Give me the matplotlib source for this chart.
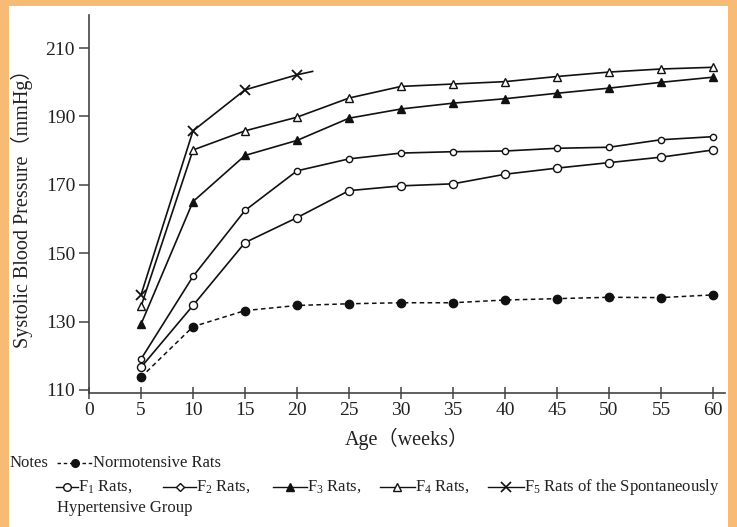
import matplotlib
matplotlib.use('Agg')
import matplotlib.pyplot as plt
from matplotlib.lines import Line2D
from matplotlib.patches import Rectangle

plt.rcParams['font.family'] = ['Liberation Serif', 'Noto Sans CJK SC']
plt.rcParams['mathtext.fontset'] = 'custom'
plt.rcParams['mathtext.rm'] = 'Liberation Serif'
plt.rcParams['mathtext.it'] = 'Liberation Serif:italic'

# data
weeks = [5, 10, 15, 20, 25, 30, 35, 40, 45, 50, 55, 60]
normo = [113.7, 128.5, 133.2, 134.7, 135.2, 135.5, 135.5, 136.3, 136.7, 137.1, 137.0, 137.8]
f1 = [116.6, 134.7, 153.1, 160.4, 168.3, 169.7, 170.3, 173.1, 174.9, 176.5, 178.1, 180.2]
f2 = [119.0, 143.2, 162.5, 174.1, 177.6, 179.3, 179.7, 179.9, 180.7, 181.0, 183.2, 184.1]
f3 = [129.2, 165.1, 178.6, 183.0, 189.5, 192.2, 193.9, 195.2, 196.8, 198.3, 200.0, 201.5]
f4 = [134.4, 180.2, 185.8, 189.8, 195.4, 198.8, 199.5, 200.2, 201.7, 203.0, 203.9, 204.4]
# F5 line runs a little past the last point
weeks5 = [5, 10, 15, 20, 21.5]
f5 = [137.8, 185.8, 197.8, 202.2, 203.2]

xticks = [0, 5, 10, 15, 20, 25, 30, 35, 40, 45, 50, 55, 60]
yticks = [110, 130, 150, 170, 190, 210]

W, H = 737, 527
fig = plt.figure(figsize=(W / 100, H / 100), dpi=100)
fig.patch.set_facecolor('#f7bb76')
fig.patches.append(Rectangle((9 / W, 0), 719 / W, 1 - 6 / H, transform=fig.transFigure,
                             facecolor='white', edgecolor='none', zorder=-5))

ax = fig.add_axes([89 / W, 1 - 393.3 / H, 636 / W, 378.3 / H])
ax.set_facecolor('none')

lc = '#111111'
ax.plot(weeks, normo, color=lc, lw=1.1, ls=(0, (3, 2.2)), marker='o', ms=6,
        mfc=lc, mec=lc, zorder=3)
ax.plot(weeks, f1, color=lc, lw=1.2, marker='o', ms=5.8, mfc='white', mec=lc, mew=1.0, zorder=3)
ax.plot(weeks, f2, color=lc, lw=1.2, marker='o', ms=4.5, mfc='white', mec=lc, mew=1.0, zorder=3)
ax.plot(weeks, f3, color=lc, lw=1.2, marker='^', ms=6, mfc=lc, mec=lc, zorder=3)
ax.plot(weeks, f4, color=lc, lw=1.2, marker='^', ms=6, mfc='white', mec=lc, mew=1.0, zorder=3)
ax.plot(weeks5, f5, color=lc, lw=1.2, marker='x', ms=7.5, mew=1.3, mec=lc,
        markevery=[0, 1, 2, 3], zorder=3)

ax.set_xlim(0, 61.15)
ax.set_ylim(109, 219.7)
ax.set_xticks(xticks)
ax.set_yticks(yticks)
ax.spines['top'].set_visible(False)
ax.spines['right'].set_visible(False)
for s in ('left', 'bottom'):
    ax.spines[s].set_color('#444444')
    ax.spines[s].set_linewidth(1.2)
ax.tick_params(axis='x', direction='inout', length=9, width=1.1, color='#444444',
               labelsize=14, labelcolor='#222222', pad=2)
ax.tick_params(axis='y', direction='out', length=7, width=1.1, color='#444444',
               labelsize=14, labelcolor='#222222', pad=3)

ax.set_xlabel('Age（weeks）', fontsize=14.5, color='#222222', labelpad=6)
ax.set_ylabel('Systolic Blood Pressure（mmHg）', fontsize=14.5, color='#222222', labelpad=9)


def px(x, y):
    return x / W, 1 - y / H


def handle(x0, x1, y, **kw):
    xa, ya = px(x0, y)
    xb, _ = px(x1, y)
    fig.add_artist(Line2D([xa, (xa + xb) / 2, xb], [ya, ya, ya], transform=fig.transFigure,
                          color=lc, lw=1.0, markevery=[1], **kw))


fs = 12
tc = '#222222'
# legend line 1
fig.text(*px(10, 463), 'Notes', fontsize=fs, color=tc, va='center')
handle(57, 93, 463, ls=(0, (2.5, 2)), marker='o', ms=5.5, mfc=lc, mec=lc)
fig.text(*px(93, 463), 'Normotensive Rats', fontsize=fs, color=tc, va='center')

# legend line 2
items = [
    (56, 78, dict(marker='o', ms=5.5, mfc='white', mec=lc), 'F$_1$ Rats,'),
    (163, 196, dict(marker='D', ms=4.5, mfc='white', mec=lc), 'F$_2$ Rats,'),
    (273, 307, dict(marker='^', ms=6, mfc=lc, mec=lc), 'F$_3$ Rats,'),
    (380, 415, dict(marker='^', ms=6, mfc='white', mec=lc), 'F$_4$ Rats,'),
    (488, 524, dict(marker='x', ms=7, mew=1.2, mec=lc), 'F$_5$ Rats of the Spontaneously'),
]
for x0, x1, mk, label in items:
    handle(x0, x1, 487, **mk)
    fig.text(*px(x1, 487), label, fontsize=fs, color=tc, va='center')

fig.text(*px(57, 508), 'Hypertensive Group', fontsize=fs, color=tc, va='center')

plt.savefig('out.png', dpi=100, facecolor=fig.get_facecolor())
plt.close()
